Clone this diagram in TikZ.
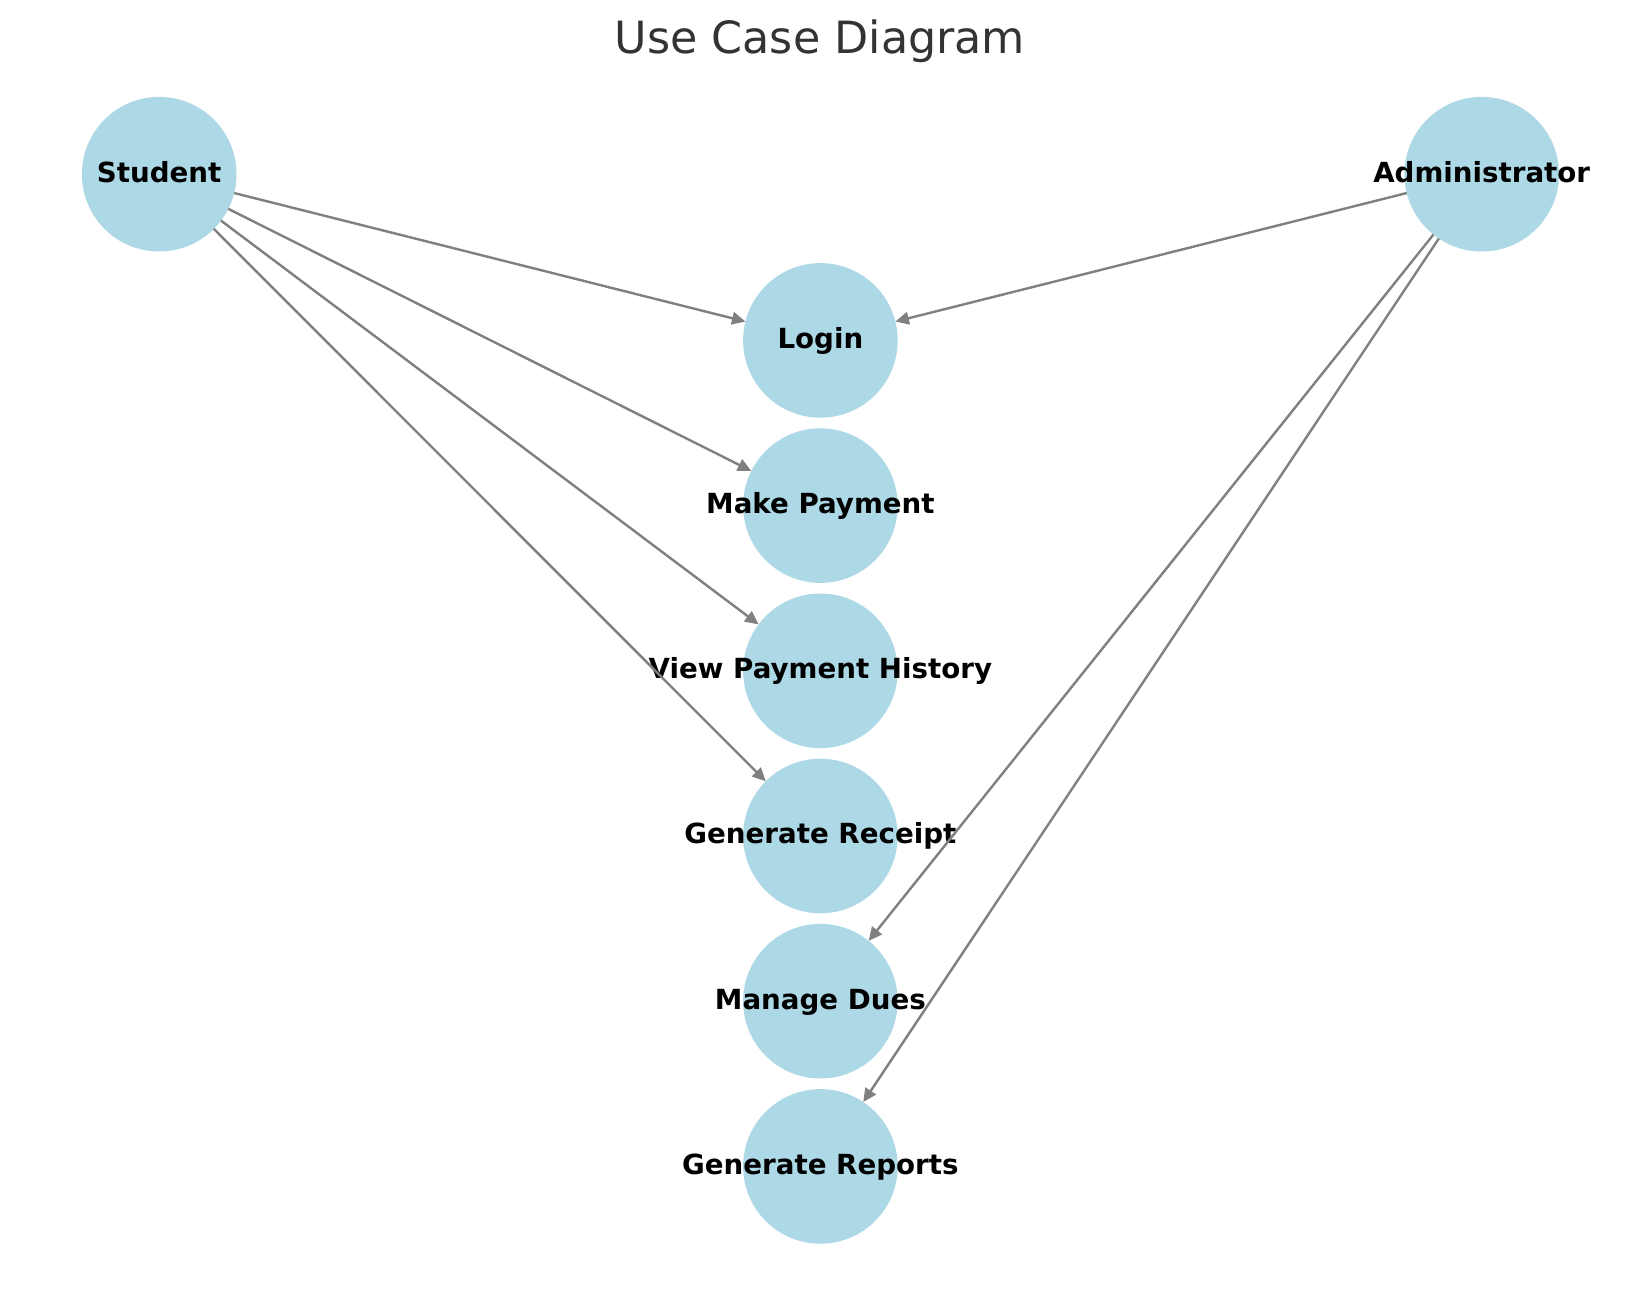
\documentclass[tikz,border=0pt]{standalone}
\usepackage{fontspec}
\setmainfont{DejaVu Sans}
\usetikzlibrary{arrows.meta}
\definecolor{nodeblue}{HTML}{ADD8E6}
\definecolor{edgegray}{HTML}{808080}
\definecolor{titlegray}{HTML}{333333}
\tikzset{
  uc/.style={circle, fill=nodeblue, draw=none, minimum size=154.6pt, inner sep=0pt, outer sep=0pt},
  lbl/.style={font=\fontsize{27.7}{33}\selectfont\bfseries, text=black, inner sep=0pt, text height=20.2pt, text depth=4.4pt},
  rel/.style={draw=edgegray, line width=2.4pt, -{Triangle[length=13.5pt,width=12.5pt]}, shorten >=0pt},
  ttl/.style={font=\fontsize{44.4}{53}\selectfont, text=titlegray, inner sep=0pt, anchor=base}
}
\begin{document}
\begin{tikzpicture}[x=1pt,y=-1pt]
\useasboundingbox (0,0) rectangle (1639,1290);
\fill[white] (0,0) rectangle (1639,1290);
\node[ttl] (title) at (820,53.3) {Use Case Diagram};
\node[uc, label={[lbl]center:Student}] (student) at (159.2,174.2) {};
\node[uc, label={[lbl]center:Administrator}] (admin) at (1481.7,174.2) {};
\node[uc, label={[lbl]center:Login}] (login) at (820.4,340.4) {};
\node[uc, label={[lbl]center:Make Payment}] (pay) at (820.4,505.6) {};
\node[uc, label={[lbl]center:View Payment History}] (hist) at (820.4,670.8) {};
\node[uc, label={[lbl]center:Generate Receipt}] (receipt) at (820.4,836.0) {};
\node[uc, label={[lbl]center:Manage Dues}] (dues) at (820.4,1001.2) {};
\node[uc, label={[lbl]center:Generate Reports}] (reports) at (820.4,1166.4) {};
\draw[rel] (student) -- (login);
\draw[rel] (student) -- (pay);
\draw[rel] (student) -- (hist);
\draw[rel] (student) -- (receipt);
\draw[rel] (admin) -- (login);
\draw[rel] (admin) -- (dues);
\draw[rel] (admin) -- (reports);
\end{tikzpicture}
\end{document}
